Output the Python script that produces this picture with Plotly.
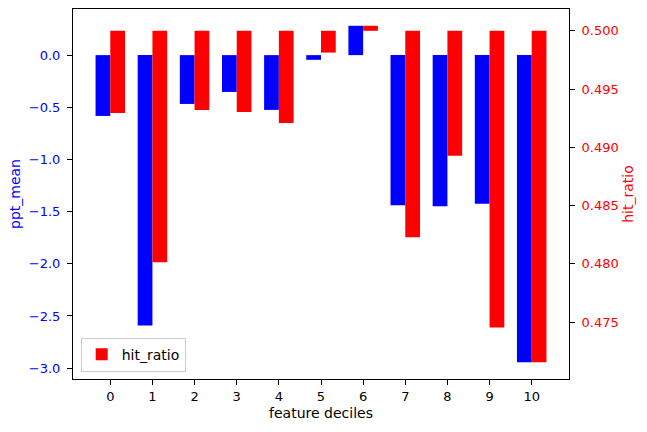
import plotly.graph_objects as go

deciles = [0, 1, 2, 3, 4, 5, 6, 7, 8, 9, 10]
ppt_mean = [-0.583, -2.591, -0.468, -0.353, -0.525, -0.045, 0.281, -1.438, -1.448, -1.425, -2.943]
hit_ratio = [0.49295, 0.48013, 0.49321, 0.49303, 0.49209, 0.49813, 0.50043, 0.48228, 0.48928, 0.47454, 0.47156]
base = 0.5

font = "DejaVu Sans"
width = 0.35

fig = go.Figure()

fig.add_trace(go.Bar(x=deciles, y=ppt_mean, name="ppt_mean",
                     offset=-width, width=width,
                     marker=dict(color="blue", line=dict(width=0)),
                     showlegend=False, yaxis="y"))

fig.add_trace(go.Bar(x=deciles, y=[h - base for h in hit_ratio], base=base,
                     name="hit_ratio",
                     offset=0, width=width,
                     marker=dict(color="red", line=dict(width=0)),
                     showlegend=True, yaxis="y2"))

fig.update_layout(
    width=647, height=432,
    margin=dict(l=73, r=78, t=9, b=53, autoexpand=False),
    barmode="overlay",
    plot_bgcolor="white", paper_bgcolor="white",
    font=dict(family=font, size=13, color="black"),
    xaxis=dict(
        range=[-0.885, 10.885],
        tickmode="array", tickvals=deciles, ticktext=[str(d) for d in deciles],
        ticks="outside", ticklen=5, tickcolor="black",
        showline=True, linecolor="black", linewidth=1, mirror=True,
        showgrid=False, zeroline=False,
        title=dict(text="feature deciles", font=dict(size=14), standoff=5),
    ),
    yaxis=dict(
        range=[-3.104, 0.442],
        tickmode="array",
        tickvals=[-3.0, -2.5, -2.0, -1.5, -1.0, -0.5, 0.0],
        ticktext=["\u22123.0", "\u22122.5", "\u22122.0", "\u22121.5", "\u22121.0", "\u22120.5", "0.0"],
        ticks="outside", ticklen=5, tickcolor="black",
        ticklabelstandoff=4,
        tickfont=dict(color="blue"),
        showline=True, linecolor="black", linewidth=1,
        showgrid=False, zeroline=False,
        title=dict(text="ppt_mean", font=dict(color="blue", size=14), standoff=4),
    ),
    yaxis2=dict(
        range=[0.47012, 0.50187],
        overlaying="y", side="right",
        tickmode="array",
        tickvals=[0.475, 0.480, 0.485, 0.490, 0.495, 0.500],
        ticktext=["0.475", "0.480", "0.485", "0.490", "0.495", "0.500"],
        ticks="outside", ticklen=5, tickcolor="black",
        ticklabelstandoff=4,
        tickfont=dict(color="red"),
        showline=True, linecolor="black", linewidth=1,
        showgrid=False, zeroline=False,
        title=dict(text="hit_ratio", font=dict(color="red", size=14), standoff=5),
    ),
    legend=dict(
        x=0.0155, y=0.02, xanchor="left", yanchor="bottom",
        bgcolor="rgba(255,255,255,0.8)", bordercolor="#cccccc", borderwidth=1,
        font=dict(size=14), tracegroupgap=0,
    ),
)

fig.write_html("out.html", config={"displayModeBar": False},
               post_script="document.body.style.margin='0';")
